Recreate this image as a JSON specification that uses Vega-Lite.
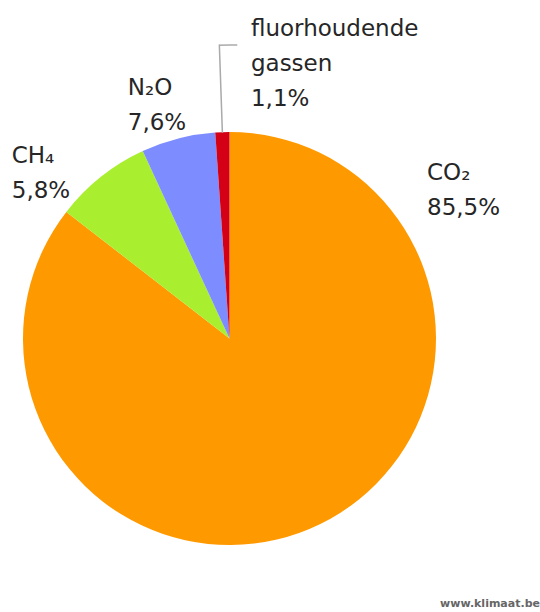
{
  "$schema": "https://vega.github.io/schema/vega-lite/v6.json",
  "width": 459,
  "height": 547,
  "autosize": {"type": "none"},
  "padding": {"left": 0, "top": 65, "right": 81, "bottom": 0},
  "background": "white",
  "config": {
    "view": {"stroke": null},
    "text": {"font": "DejaVu Sans", "fontSize": 23, "lineBreak": "\n", "lineHeight": 35, "fill": "#262626"}
  },
  "layer": [
    {
      "data": {
        "values": [
          {"gas": "CO2", "share": 85.5, "order": 1, "label": "CO₂\n85,5%"},
          {"gas": "N2O", "share": 7.6, "order": 2, "label": "N₂O\n7,6%"},
          {"gas": "CH4", "share": 5.8, "order": 3, "label": "CH₄\n5,8%"},
          {"gas": "F", "share": 1.1, "order": 4, "label": "fluorhoudende\ngassen\n1,1%"}
        ]
      },
      "transform": [
        {"stack": "share", "groupby": [], "sort": [{"field": "order", "order": "ascending"}], "as": ["t0", "t1"]}
      ],
      "layer": [
        {
          "mark": {"type": "arc", "radius": 206.5, "stroke": null},
          "encoding": {
            "theta": {"field": "t0", "type": "quantitative", "scale": {"domain": [0, 100]}},
            "theta2": {"field": "t1"},
            "color": {
              "field": "gas",
              "type": "nominal",
              "scale": {"domain": ["CO2", "N2O", "CH4", "F"], "range": ["#ff9900", "#aaef2f", "#7d8cff", "#d40015"]},
              "legend": null
            }
          }
        },
        {
          "transform": [{"filter": "datum.gas === 'F'"}],
          "mark": {"type": "arc", "radius": 293.5, "radius2": 206.5, "thetaOffset": 0.03458, "theta2Offset": -0.03458, "fillOpacity": 0, "stroke": "#aaaaaa", "strokeWidth": 1.5},
          "encoding": {
            "theta": {"field": "t0", "type": "quantitative"},
            "theta2": {"field": "t1"}
          }
        },
        {
          "transform": [{"filter": "datum.gas === 'F'"}],
          "mark": {"type": "arc", "radius": 293.5, "radius2": 293.5, "thetaOffset": 0.03458, "theta2Offset": 0.02652, "fillOpacity": 0, "stroke": "#aaaaaa", "strokeWidth": 1.5},
          "encoding": {
            "theta": {"field": "t0", "type": "quantitative"},
            "theta2": {"field": "t1"}
          }
        },
        {
          "transform": [{"filter": "datum.gas === 'CO2'"}],
          "mark": {"type": "text", "radius": 206.5, "align": "left", "baseline": "alphabetic", "dx": 197.5, "dy": 47.5},
          "encoding": {
            "theta": {"field": "t0", "type": "quantitative"},
            "text": {"field": "label"}
          }
        },
        {
          "transform": [{"filter": "datum.gas === 'N2O'"}],
          "mark": {"type": "text", "radius": 206.5, "align": "left", "baseline": "alphabetic", "dx": -15, "dy": -56.5},
          "encoding": {
            "theta": {"field": "t1", "type": "quantitative"},
            "text": {"field": "label"}
          }
        },
        {
          "transform": [{"filter": "datum.gas === 'CH4'"}],
          "mark": {"type": "text", "radius": 206.5, "align": "left", "baseline": "alphabetic", "dx": -131, "dy": 11.5},
          "encoding": {
            "theta": {"field": "t0", "type": "quantitative"},
            "text": {"field": "label"}
          }
        },
        {
          "transform": [{"filter": "datum.gas === 'F'"}],
          "mark": {"type": "text", "radius": 206.5, "align": "left", "baseline": "alphabetic", "dx": 35.7, "dy": -96},
          "encoding": {
            "theta": {"field": "t0", "type": "quantitative"},
            "text": {"field": "label"}
          }
        }
      ]
    },
    {
      "data": {"values": [{"credit": "www.klimaat.be"}]},
      "mark": {"type": "text", "align": "right", "baseline": "alphabetic", "dx": 310.5, "dy": 268.5, "fontSize": 11, "fontWeight": "bold", "fill": "#666666"},
      "encoding": {"text": {"field": "credit"}}
    }
  ]
}
